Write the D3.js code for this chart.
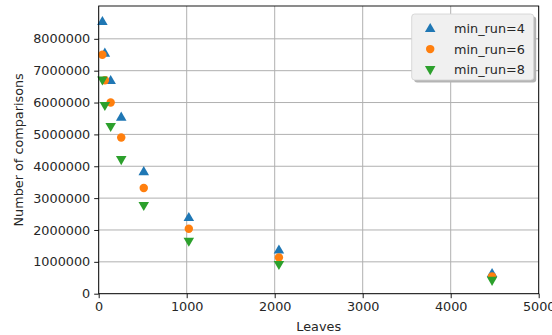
<!DOCTYPE html>
<html>
<head>
<meta charset="utf-8">
<script src="https://cdn.jsdelivr.net/npm/d3@7"></script>
<style>
  body { margin: 0; background: #fff; }
  text { font-family: "DejaVu Sans", sans-serif; fill: #262626; }
</style>
</head>
<body>
<script>
// values
var leaves = [42, 70, 136, 256, 512, 1024, 2048, 4470];
var run4 = [8550000, 7560000, 6700000, 5550000, 3840000, 2400000, 1380000, 640000];
var run6 = [7500000, 6700000, 6000000, 4900000, 3320000, 2040000, 1140000, 540000];
var run8 = [6700000, 5900000, 5240000, 4200000, 2760000, 1640000, 910000, 410000];
var xTicks = [0, 1000, 2000, 3000, 4000, 5000];
var yTicks = [0, 1000000, 2000000, 3000000, 4000000, 5000000, 6000000, 7000000, 8000000];

var series = [
  { name: 'min_run=4', values: run4, color: '#1f77b4', shape: 'up' },
  { name: 'min_run=6', values: run6, color: '#ff7f0e', shape: 'circle' },
  { name: 'min_run=8', values: run8, color: '#2ca02c', shape: 'down' }
];

var W = 552, H = 335;
var m = { left: 98.7, right: 13.3, top: 6, bottom: 41.3 };
var w = W - m.left - m.right, h = H - m.top - m.bottom;

var svg = d3.select('body').append('svg').attr('width', W).attr('height', H);
var g = svg.append('g').attr('transform', 'translate(' + m.left + ',' + m.top + ')');

var x = d3.scaleLinear().domain([0, 5000]).range([0, w]);
var y = d3.scaleLinear().domain([0, 9030000]).range([h, 0]);

// grid
g.append('g').selectAll('line').data(xTicks).enter().append('line')
  .attr('x1', d => x(d)).attr('x2', d => x(d)).attr('y1', 0).attr('y2', h)
  .attr('stroke', '#b0b0b0').attr('stroke-width', 1);
g.append('g').selectAll('line').data(yTicks).enter().append('line')
  .attr('y1', d => y(d)).attr('y2', d => y(d)).attr('x1', 0).attr('x2', w)
  .attr('stroke', '#b0b0b0').attr('stroke-width', 1);

// markers
var sym = {
  up: d3.symbol().type(d3.symbolTriangle).size(48),
  circle: d3.symbol().type(d3.symbolCircle).size(56),
  down: d3.symbol().type(d3.symbolTriangle).size(48)
};
function markerTransform(s, px, py) {
  // d3 triangle is centred on centroid, shift so bbox is centred like matplotlib
  var r = Math.sqrt(48 / (3 * Math.sqrt(3))) ;
  if (s === 'up') return 'translate(' + px + ',' + (py + r * 0.25) + ')';
  if (s === 'down') return 'translate(' + px + ',' + (py - r * 0.25) + ') rotate(180)';
  return 'translate(' + px + ',' + py + ')';
}

series.forEach(function(s) {
  g.append('g').selectAll('path').data(s.values).enter().append('path')
    .attr('d', sym[s.shape])
    .attr('fill', s.color)
    .attr('transform', (d, i) => markerTransform(s.shape, x(leaves[i]), y(d)));
});

// axes
var xAxis = d3.axisBottom(x).tickValues(xTicks).tickFormat(d3.format('d')).tickSizeOuter(0).tickSize(4.5).tickPadding(4);
var yAxis = d3.axisLeft(y).tickValues(yTicks).tickFormat(d3.format('d')).tickSizeOuter(0).tickSize(4.5).tickPadding(4);
var gx = g.append('g').attr('transform', 'translate(0,' + h + ')').call(xAxis);
var gy = g.append('g').call(yAxis);
[gx, gy].forEach(function(a) {
  a.select('.domain').remove();
  a.selectAll('line').attr('stroke', '#000').attr('stroke-width', 0.9);
  a.selectAll('text').attr('font-size', 12.8).attr('font-family', '"DejaVu Sans", sans-serif').attr('fill', '#262626');
});

// frame
g.append('rect').attr('width', w).attr('height', h)
  .attr('fill', 'none').attr('stroke', '#000').attr('stroke-width', 0.9);

// labels
svg.append('text').attr('x', m.left + w / 2).attr('y', 331)
  .attr('text-anchor', 'middle').attr('font-size', 12.8).text('Leaves');
svg.append('text').attr('transform', 'translate(23,' + (m.top + h / 2) + ') rotate(-90)')
  .attr('text-anchor', 'middle').attr('font-size', 12.8).text('Number of comparisons');

// legend
var lx = 411.7, ly = 14, lw = 122, lh = 66;
svg.append('rect').attr('x', lx + 2.5).attr('y', ly + 2.5).attr('width', lw).attr('height', lh)
  .attr('rx', 3).attr('fill', '#b4b4b4');
svg.append('rect').attr('x', lx).attr('y', ly).attr('width', lw).attr('height', lh)
  .attr('rx', 3).attr('fill', '#f0f0f0').attr('stroke', '#d0d0d0').attr('stroke-width', 0.8);
var leg = svg.append('g').selectAll('g').data(series).enter().append('g')
  .attr('transform', (d, i) => 'translate(' + lx + ',' + (ly + 14.3 + i * 20.8) + ')');
leg.append('path').attr('d', d => sym[d.shape]())
  .attr('fill', d => d.color)
  .attr('transform', d => markerTransform(d.shape, 18.5, 0));
leg.append('text').attr('x', 42.3).attr('dy', '0.35em').attr('font-size', 12.8).text(d => d.name);
</script>
</body>
</html>
